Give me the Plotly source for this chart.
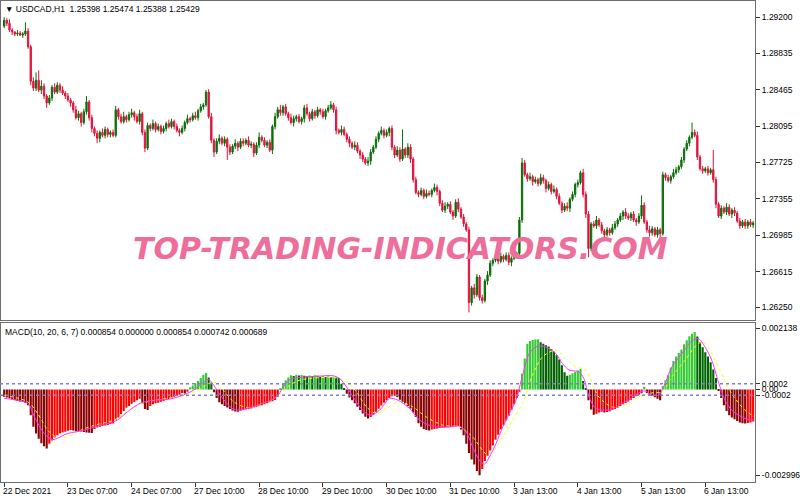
import plotly.graph_objects as go

# ---- data (prices in pips above 1.2600, MACD in 1e-5) ----
first_open = 311
closes = [
    317, 314, 307, 305, 303, 304, 302, 303, 306, 290, 255, 248, 256, 246, 250, 240, 233, 238, 249, 244,
    251, 246, 243, 240, 236, 233, 226, 218, 222, 213, 224, 234, 218, 207, 202, 197, 203, 200, 206, 201,
    203, 200, 226, 219, 214, 219, 216, 221, 223, 219, 214, 222, 203, 187, 210, 207, 212, 206, 209, 204,
    207, 212, 209, 214, 209, 205, 203, 207, 213, 217, 216, 220, 218, 225, 229, 231, 244, 219, 195, 183,
    194, 197, 192, 196, 188, 183, 189, 192, 188, 194, 192, 195, 190, 191, 182, 190, 198, 195, 190, 193,
    185, 209, 219, 226, 223, 229, 222, 218, 213, 217, 219, 214, 217, 228, 222, 217, 224, 220, 226, 224,
    219, 225, 228, 231, 226, 205, 203, 206, 201, 196, 192, 188, 190, 184, 180, 176, 172, 174, 183, 188,
    196, 202, 205, 200, 203, 207, 188, 180, 185, 176, 186, 180, 188, 176, 155, 142, 140, 144, 138, 141,
    140, 144, 147, 143, 131, 124, 128, 130, 122, 118, 132, 125, 117, 110, 104, 30, 45, 38, 56, 35,
    32, 52, 58, 70, 73, 76, 72, 77, 74, 78, 71, 75, 79, 80, 114, 172, 160, 156, 158, 153,
    155, 151, 157, 154, 146, 150, 143, 145, 138, 131, 124, 128, 126, 135, 140, 150, 152, 162, 140, 120,
    85, 110, 108, 114, 109, 103, 99, 104, 101, 106, 110, 114, 118, 122, 118, 116, 120, 114, 112, 118,
    129, 112, 104, 101, 105, 99, 104, 100, 160, 157, 154, 158, 162, 165, 168, 175, 186, 192, 198, 203,
    200, 178, 166, 164, 166, 162, 165, 155, 130, 118, 126, 122, 127, 120, 124, 121, 113, 108, 112, 108,
    112, 109, 111,
]
wick_up = [
    3, 2, 4, 2, 1, 3, 2, 2, 9, 3, 2, 4, 8, 10, 6, 3, 2, 3, 2, 4,
    3, 2, 4, 2, 3, 2, 2, 4, 3, 2, 3, 6, 2, 3, 2, 3, 2, 4, 3, 2,
    2, 3, 4, 2, 3, 5, 2, 3, 4, 2, 3, 4, 2, 3, 3, 2, 4, 2, 3, 2,
    3, 2, 4, 3, 2, 3, 2, 3, 2, 4, 2, 3, 4, 2, 3, 2, 2, 3, 4, 2,
    3, 4, 2, 3, 2, 3, 2, 4, 2, 3, 3, 2, 4, 3, 2, 3, 5, 2, 3, 2,
    3, 2, 4, 3, 5, 2, 3, 2, 4, 3, 2, 3, 2, 3, 4, 2, 3, 2, 3, 2,
    3, 2, 3, 4, 2, 3, 2, 4, 3, 2, 3, 2, 4, 3, 2, 3, 2, 4, 3, 2,
    3, 2, 4, 2, 3, 2, 3, 2, 4, 3, 20, 2, 4, 3, 2, 3, 2, 3, 2, 4,
    3, 2, 4, 3, 2, 3, 4, 2, 3, 2, 3, 4, 2, 3, 2, 3, 2, 4, 3, 2,
    3, 2, 4, 3, 2, 3, 2, 4, 2, 3, 3, 2, 3, 2, 3, 5, 3, 2, 4, 2,
    3, 2, 4, 3, 2, 3, 2, 4, 2, 3, 2, 3, 4, 2, 3, 2, 3, 2, 4, 3,
    3, 2, 3, 4, 2, 3, 2, 3, 2, 4, 3, 2, 3, 2, 4, 3, 2, 3, 2, 3,
    10, 3, 2, 4, 3, 2, 3, 2, 3, 2, 3, 2, 4, 3, 2, 3, 2, 3, 2, 10,
    3, 4, 2, 3, 2, 3, 2, 20, 3, 2, 3, 2, 4, 3, 2, 3, 2, 3, 2, 3,
    2, 3, 2,
]
wick_dn = [
    2, 3, 2, 3, 2, 2, 1, 3, 2, 2, 4, 3, 3, 2, 4, 3, 5, 2, 3, 2,
    2, 3, 2, 3, 2, 4, 3, 2, 3, 4, 2, 3, 3, 4, 3, 5, 4, 2, 3, 3,
    3, 2, 2, 3, 2, 2, 3, 2, 3, 4, 2, 3, 3, 4, 2, 3, 2, 3, 2, 3,
    2, 3, 2, 2, 3, 2, 4, 2, 3, 2, 3, 2, 2, 3, 2, 3, 2, 2, 3, 5,
    2, 3, 2, 3, 13, 3, 2, 3, 4, 2, 3, 2, 2, 3, 4, 2, 3, 2, 2, 3,
    2, 4, 3, 2, 3, 3, 2, 3, 2, 4, 3, 2, 3, 4, 2, 3, 2, 3, 2, 3,
    2, 3, 2, 2, 3, 4, 2, 3, 2, 3, 4, 2, 3, 2, 4, 3, 2, 3, 4, 2,
    2, 3, 2, 3, 2, 4, 3, 3, 2, 3, 2, 3, 3, 4, 3, 2, 3, 2, 3, 2,
    2, 3, 2, 4, 3, 2, 3, 3, 2, 4, 2, 3, 2, 3, 2, 10, 3, 4, 2, 3,
    3, 2, 4, 2, 3, 2, 3, 2, 3, 2, 3, 4, 2, 3, 2, 3, 2, 3, 2, 4,
    2, 3, 2, 3, 4, 2, 3, 2, 3, 2, 3, 2, 3, 4, 2, 3, 3, 2, 3, 4,
    9, 3, 2, 3, 2, 3, 4, 2, 3, 2, 2, 3, 2, 4, 3, 2, 3, 2, 4, 2,
    3, 2, 3, 4, 3, 2, 3, 4, 2, 3, 2, 3, 2, 2, 3, 2, 3, 2, 3, 2,
    2, 3, 2, 3, 2, 3, 2, 3, 4, 2, 3, 2, 3, 2, 4, 3, 2, 3, 2, 3,
    3, 2, 3,
]

hist = [
    -25, -28, -31, -34, -38, -40, -42, -44, -47, -55, -90, -130, -154, -172, -188, -198, -206, -190, -178, -168,
    -160, -154, -150, -148, -144, -142, -143, -145, -146, -147, -149, -150, -151, -152, -138, -133, -130, -128, -126, -124,
    -121, -119, -107, -98, -86, -75, -64, -58, -50, -44, -38, -32, -50, -68, -72, -58, -52, -48, -46, -43,
    -40, -37, -33, -29, -25, -22, -18, -12, -14, -8, 8, 14, 22, 30, 40, 52, 58, 42, 24, -10,
    -30, -45, -52, -58, -63, -68, -73, -77, -78, -74, -72, -70, -68, -66, -63, -60, -58, -55, -52, -48,
    -45, -41, -37, -25, 5, 20, 32, 42, 50, 47, 52, 49, 51, 48, 46, 49, 47, 50, 48, 45,
    47, 44, 46, 43, 45, 42, 40, 20, 4, -15, -28, -38, -48, -60, -72, -84, -95, -101, -96, -88,
    -78, -67, -56, -46, -38, -30, -24, -22, -26, -36, -43, -50, -58, -66, -80, -96, -118, -130, -138, -142,
    -143, -140, -138, -136, -135, -134, -133, -132, -131, -130, -129, -128, -140, -160, -190, -222, -245, -262, -285, -300,
    -278, -250, -232, -213, -196, -176, -158, -140, -125, -108, -92, -72, -52, -30, -8, 55, 108, 160, 170, 173,
    175, 176, 165, 160, 155, 150, 142, 132, 120, 105, 85, 60, 48, 52, 57, 61, 66, 72, 30, 5,
    -38, -70, -88, -85, -80, -78, -80, -79, -76, -72, -68, -64, -58, -52, -47, -42, -36, -30, -24, -18,
    -13, 10, -12, -18, -22, -27, -32, -38, 12, 32, 50, 76, 100, 115, 128, 140, 158, 172, 186, 195,
    201, 185, 165, 148, 130, 115, 95, 70, 40, -4, -30, -55, -75, -90, -98, -104, -110, -115, -118, -119,
    -117, -115, -112,
]

# magenta signal line, anchor points (bar index, value)
sig_x = [0, 8.9, 11.4, 15.1, 18.2, 23.9, 30.1, 33.9, 38.9, 42.6,
         46.4, 51.4, 56.4, 61.4, 66.4, 71.4, 75.1, 77, 78.9, 81.4,
         85.1, 87.6, 92.6, 98.9, 102.6, 105.1, 107.6, 111.4, 118.9, 123.9,
         126.4, 128.9, 131.4, 133.9, 136.4, 138.2, 141.4, 145.1, 148.2, 152.6,
         156.4, 160.1, 163.9, 167.6, 171.4, 173.9, 176.4, 178.9, 180.8, 182.7,
         185.2, 187.7, 190.2, 192.7, 195.2, 197.7, 200.2, 202.7, 205.2, 207.7,
         210.2, 212.7, 216.4, 218.3, 220.2, 222.7, 226.4, 228.9, 231.4, 235.2,
         238.9, 241.4, 243.9, 246.4, 248.3, 251.4, 255.2, 258.9, 261.4, 263.9,
         266.4, 268.9, 271.4, 273.9, 277.7, 280.2, 282.6]
sig_y = [-31, -49, -96, -154, -175, -154, -142, -131, -119, -107,
         -78, -47, -37, -35, -23, -2, 27, 35, 15, -20,
         -61, -72, -63, -43, -26, 9, 35, 42, 47, 48,
         38, 9, -26, -61, -84, -90, -72, -31, -37, -66,
         -107, -125, -131, -131, -128, -148, -201, -247, -261, -236,
         -189, -131, -84, -37, 50, 126, 149, 152, 143, 126,
         91, 68, 62, 38, -26, -66, -72, -70, -55, -37,
         -12, -5, -20, -20, 9, 79, 126, 170, 178, 149,
         103, 27, -37, -72, -96, -105, -107]

# yellow dotted line
yel_x = [0, 8.9, 12.6, 16.4, 19.5, 23.9, 28.9, 33.9, 41.4, 48.9,
         53.9, 61.4, 68.9, 73.9, 78.9, 81.4, 86.4, 91.4, 98.9, 103.9,
         107.6, 111.4, 123.9, 128.9, 132.6, 136.4, 140.1, 143.9, 148.9, 153.9,
         158.9, 165.2, 171.4, 176.4, 181.4, 183.9, 187.7, 191.4, 195.2, 198.9,
         202.7, 207.7, 211.4, 215.2, 218.9, 223.9, 228.9, 233.9, 238.9, 243.9,
         247.7, 251.4, 256.4, 261.4, 263.9, 268.9, 273.9, 278.9, 282.6]
yel_y = [-20, -43, -84, -142, -166, -166, -142, -125, -107, -61,
         -43, -31, -20, 3, 27, 9, -43, -63, -49, -14,
         15, 33, 42, 27, -8, -61, -84, -66, -43, -61,
         -96, -125, -131, -166, -224, -218, -166, -107, -49, 50,
         114, 138, 108, 79, 68, -26, -61, -55, -26, -12,
         -8, 44, 103, 161, 161, 79, -14, -72, -96]

price_ticks = [1.29200, 1.28835, 1.28465, 1.28095, 1.27725, 1.27355, 1.26985, 1.26615, 1.26250]
macd_ticks = [0.002138, 0.0002, 0.0, -0.0002, -0.002996]
macd_tick_text = ["0.002138", "0.0002", "0.00", "-0.0002", "-0.002996"]
time_pos = [0, 24, 48, 72, 96, 120, 144, 168, 192, 216, 240, 264]
time_labels = ["22 Dec 2021", "23 Dec 07:00", "24 Dec 07:00", "27 Dec 10:00", "28 Dec 10:00",
               "29 Dec 10:00", "30 Dec 10:00", "31 Dec 10:00", "3 Jan 13:00", "4 Jan 13:00",
               "5 Jan 13:00", "6 Jan 13:00"]

PIP = 0.0001
BASE = 1.26
UNIT = 0.00001
FONT = "Liberation Sans"
RIGHT = 757 / 800  # right edge of plot area (axis line)


def to_price(p):
    return BASE + p * PIP


def hist_colors(values):
    """MT4 style colouring: light when growing, dark when shrinking."""
    out = []
    prev = None
    for v in values:
        rising = prev is not None and v > prev
        if v >= 0:
            out.append("#33cc33" if rising else "#006400")
        else:
            out.append("#ff0000" if rising else "#8b0000")
        prev = v
    return out


idx = list(range(len(closes)))
opens = [first_open] + closes[:-1]
highs = [max(o, c) + w for o, c, w in zip(opens, closes, wick_up)]
lows = [min(o, c) - w for o, c, w in zip(opens, closes, wick_dn)]

fig = go.Figure()

fig.add_trace(go.Candlestick(
    x=idx,
    open=[to_price(v) for v in opens],
    high=[to_price(v) for v in highs],
    low=[to_price(v) for v in lows],
    close=[to_price(v) for v in closes],
    increasing=dict(line=dict(color="#0a6e0a", width=1), fillcolor="#0a6e0a"),
    decreasing=dict(line=dict(color="#e0143c", width=1), fillcolor="#e0143c"),
    whiskerwidth=0,
    xaxis="x", yaxis="y",
    showlegend=False, hoverinfo="skip",
))

fig.add_trace(go.Bar(
    x=list(range(len(hist))),
    y=[v * UNIT for v in hist],
    marker=dict(color=hist_colors(hist), line=dict(width=0)),
    xaxis="x2", yaxis="y2",
    showlegend=False, hoverinfo="skip",
))

fig.add_trace(go.Scatter(
    x=yel_x, y=[v * UNIT for v in yel_y],
    mode="lines", line=dict(color="#ffff00", width=1, dash="dot", shape="spline", smoothing=0.8),
    xaxis="x2", yaxis="y2", showlegend=False, hoverinfo="skip",
))
fig.add_trace(go.Scatter(
    x=sig_x, y=[v * UNIT for v in sig_y],
    mode="lines", line=dict(color="#ff33ff", width=1, shape="spline", smoothing=0.8),
    xaxis="x2", yaxis="y2", showlegend=False, hoverinfo="skip",
))

# dotted levels at +/- 0.0002
for lvl in (0.0002, -0.0002):
    fig.add_shape(type="line", xref="paper", yref="y2", x0=0, x1=RIGHT, y0=lvl, y1=lvl,
                  line=dict(color="#7f7fc8", width=1.5, dash="dot"), layer="above")

x_range = [-1.125, 282.75]
axis_common = dict(showgrid=False, zeroline=False, showline=True, mirror=True,
                   linecolor="#6e6e6e", linewidth=1)

fig.update_layout(
    width=800, height=500,
    margin=dict(l=0, r=0, t=0, b=0),
    paper_bgcolor="white", plot_bgcolor="white",
    bargap=0.2,
    xaxis=dict(domain=[0.0015, RIGHT], range=x_range, showticklabels=False, ticks="",
               rangeslider=dict(visible=False), anchor="y", **axis_common),
    yaxis=dict(domain=[0.36, 0.998], range=[1.26123, 1.29366], side="right", anchor="x",
               tickvals=price_ticks, ticktext=["%.5f" % t for t in price_ticks],
               ticks="outside", ticklen=4, tickcolor="#333333",
               tickfont=dict(family=FONT, size=8.5, color="#000000"), **axis_common),
    xaxis2=dict(domain=[0.0015, RIGHT], range=x_range, anchor="y2", matches="x",
                tickvals=time_pos, ticks="outside", ticklen=4, tickcolor="#333333",
                showticklabels=False, **axis_common),
    yaxis2=dict(domain=[0.036, 0.354], range=[-0.003234, 0.002325], side="right", anchor="x2",
                tickvals=macd_ticks, ticktext=macd_tick_text,
                ticks="outside", ticklen=4, tickcolor="#333333",
                tickfont=dict(family=FONT, size=8.5, color="#000000"), **axis_common),
)

# time labels, left-aligned at their tick like MT4 does
for pos, lab in zip(time_pos, time_labels):
    fig.add_annotation(x=pos, xref="x2", y=0.018, yref="paper", text=lab, showarrow=False,
                       xanchor="left", yanchor="middle", xshift=-3,
                       font=dict(family=FONT, size=8.5, color="#000000"))

# panel captions
fig.add_annotation(x=0.004, y=0.982, xref="paper", yref="paper", showarrow=False,
                   xanchor="left", yanchor="middle",
                   text="\u25bc USDCAD,H1  1.25398 1.25474 1.25388 1.25429",
                   font=dict(family=FONT, size=8.5, color="#000000"))
fig.add_annotation(x=0.004, y=0.336, xref="paper", yref="paper", showarrow=False,
                   xanchor="left", yanchor="middle",
                   text="MACD(10, 20, 6, 7) 0.000854 0.000000 0.000854 0.000742 0.000689",
                   font=dict(family=FONT, size=8.5, color="#000000"))

# watermark
fig.add_annotation(x=0.502, y=0.503, xref="paper", yref="paper", showarrow=False,
                   xanchor="center", yanchor="middle",
                   text="TOP-TRADING-INDICATORS.COM",
                   font=dict(family="DejaVu Sans", size=30, color="#ee6d9a",
                             weight="bold", style="italic"))

# the page body has a default 8px margin; drop it so the chart sits at the window corner
fig.write_html("out.html", config={"displayModeBar": False},
               post_script="document.body.style.margin='0';")
